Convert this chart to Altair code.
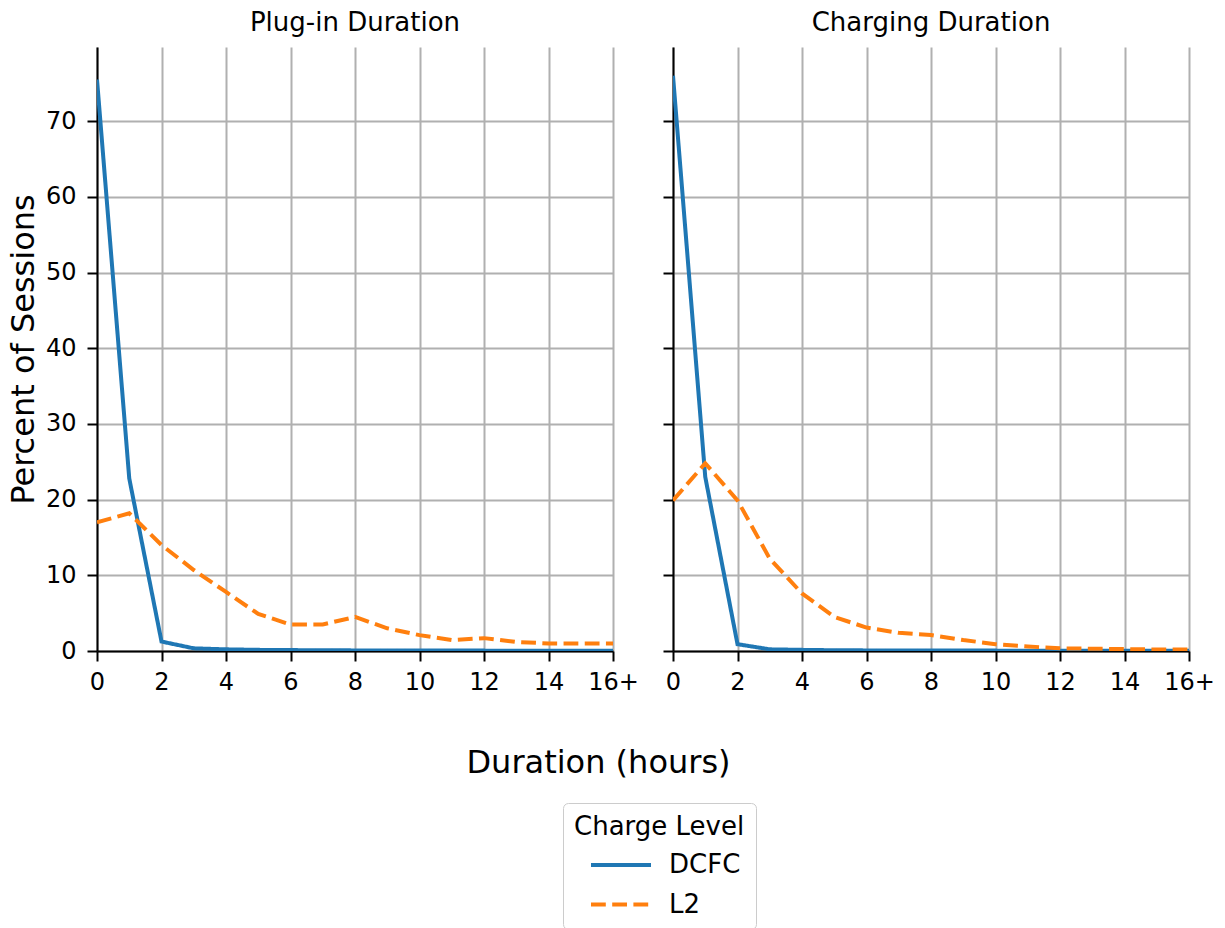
import altair as alt
import pandas as pd

# ---- data ----
hours = list(range(17))
panels = ["Plug-in Duration", "Charging Duration"]
levels = ["DCFC", "L2"]

plug_dcfc = [75.5, 22.8, 1.25, 0.35, 0.22, 0.15, 0.12, 0.1, 0.08, 0.07, 0.06, 0.05, 0.05, 0.04, 0.04, 0.04, 0.04]
plug_l2 = [17.0, 18.2, 14.0, 10.7, 7.8, 4.9, 3.5, 3.5, 4.5, 3.0, 2.1, 1.45, 1.7, 1.2, 1.0, 1.0, 1.0]
charge_dcfc = [76.0, 23.0, 0.9, 0.22, 0.15, 0.1, 0.08, 0.07, 0.06, 0.05, 0.05, 0.04, 0.04, 0.04, 0.03, 0.03, 0.03]
charge_l2 = [19.9, 24.8, 19.9, 12.2, 7.6, 4.5, 3.1, 2.4, 2.1, 1.45, 0.9, 0.6, 0.35, 0.3, 0.25, 0.2, 0.2]

x_ticks = [0, 2, 4, 6, 8, 10, 12, 14, 16]
x_labels = ["0", "2", "4", "6", "8", "10", "12", "14", "16+"]
y_ticks = [0, 10, 20, 30, 40, 50, 60, 70]
y_max = 79.8

rows = []
for panel, dc, l2 in [(panels[0], plug_dcfc, plug_l2), (panels[1], charge_dcfc, charge_l2)]:
    for h, v in zip(hours, dc):
        rows.append({"panel": panel, "hours": h, "pct": v, "level": levels[0]})
    for h, v in zip(hours, l2):
        rows.append({"panel": panel, "hours": h, "pct": v, "level": levels[1]})
df = pd.DataFrame(rows)

FONT = "DejaVu Sans"
label_expr = "[" + ",".join("'%s'" % s for s in x_labels) + "][indexof([" + ",".join(str(v) for v in x_ticks) + "], datum.value)]"

xscale = alt.Scale(domain=[0, 16], nice=False, zero=False)
yscale = alt.Scale(domain=[0, y_max], nice=False)

legend = alt.Legend(
    title="Charge Level", orient="none", legendX=466, legendY=756,
    symbolType="M-3,0L3,0", symbolSize=400, symbolStrokeWidth=4, symbolOffset=34,
    labelOffset=35, padding=11, strokeColor="#cccccc", cornerRadius=5, fillColor="white",
    rowPadding=13.5, titlePadding=12, labelFontSize=26, titleFontSize=26,
    titleFontWeight="normal", labelFont=FONT, titleFont=FONT,
    labelColor="black", titleColor="black",
)
color = alt.Color("level:N", scale=alt.Scale(domain=levels, range=["#1f77b4", "#ff7f0e"]), legend=legend)
dash = alt.StrokeDash("level:N", scale=alt.Scale(domain=levels, range=[[1, 0], [14.8, 6.4]]), legend=legend)


def panel_chart(name, first):
    xaxis = alt.Axis(
        values=x_ticks, labelExpr=label_expr, labelFlush=False, labelOverlap=False,
        title="Duration (hours)" if first else None,
        **({"titleX": 501, "titleY": 121, "titleAlign": "center", "titleBaseline": "alphabetic", "titleAnchor": "start"} if first else {}),
    )
    yaxis = alt.Axis(
        values=y_ticks, labels=first, title="Percent of Sessions" if first else None,
    )
    return (
        alt.Chart(df)
        .transform_filter(alt.datum.panel == name)
        .mark_line(strokeWidth=4, clip=True)
        .encode(
            x=alt.X("hours:Q", scale=xscale, axis=xaxis),
            y=alt.Y("pct:Q", scale=yscale, axis=yaxis),
            color=color,
            strokeDash=dash,
        )
        .properties(
            width=516, height=604,
            title=alt.TitleParams(name, fontSize=26, fontWeight="normal", font=FONT, color="black", offset=11, anchor="middle"),
        )
    )


chart = (
    alt.hconcat(panel_chart(panels[0], True), panel_chart(panels[1], False), spacing=60, bounds="flush")
    .properties(padding={"left": 7, "top": 10, "right": 5, "bottom": 0}, background="white")
    .configure_view(stroke=None)
    .configure_axis(
        domainColor="black", domainWidth=2, tickColor="black", tickWidth=2, tickSize=10,
        gridColor="#b0b0b0", gridWidth=2, grid=True,
        labelFont=FONT, labelFontSize=24, labelColor="black",
        titleFont=FONT, titleFontSize=32, titleFontWeight="normal", titleColor="black",
    )
    .configure_axisX(labelPadding=9)
    .configure_axisY(labelPadding=11, titlePadding=5)
)

chart.save("out.html", embed_options={"renderer": "svg", "actions": False})
